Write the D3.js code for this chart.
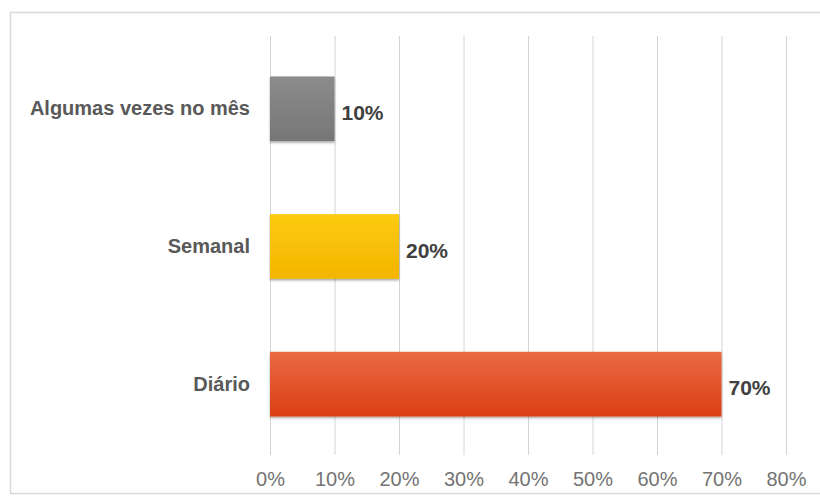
<!DOCTYPE html>
<html>
<head>
<meta charset="utf-8">
<script src="https://cdn.jsdelivr.net/npm/d3@7"></script>
<style>
  html, body { margin: 0; padding: 0; background: #fff; }
  svg { display: block; font-family: "Liberation Sans", Arial, sans-serif; }
</style>
</head>
<body>
<svg id="chart" width="820" height="500"></svg>
<script>
// Frequency of use, share of respondents
const categories = ["Algumas vezes no mês", "Semanal", "Diário"];
const values = [0.10, 0.20, 0.70];
const tickValues = [0, 0.1, 0.2, 0.3, 0.4, 0.5, 0.6, 0.7, 0.8];
const barColors = [
  ["#8c8c8c", "#767676"],
  ["#fdcb12", "#f3b500"],
  ["#ea6a44", "#da3f15"]
];

const FONT = "\"Liberation Sans\", Arial, sans-serif";
const svg = d3.select("#chart");

// outer frame
svg.append("rect")
  .attr("x", 10.5).attr("y", 12.5)
  .attr("width", 830).attr("height", 481)
  .attr("fill", "#fff")
  .attr("stroke", "#d9d9d9").attr("stroke-width", 1.5);

const plot = { left: 270, right: 786, top: 36, bottom: 455 };

const x = d3.scaleLinear().domain([0, 0.8]).range([plot.left, plot.right]);
const y = d3.scaleBand().domain(categories).range([plot.top + 4, plot.bottom - 2]).paddingInner(0.53).paddingOuter(0.265);

const defs = svg.append("defs");
barColors.forEach((c, i) => {
  const g = defs.append("linearGradient").attr("id", "grad" + i)
    .attr("x1", 0).attr("y1", 0).attr("x2", 0).attr("y2", 1);
  g.append("stop").attr("offset", "0%").attr("stop-color", c[0]);
  g.append("stop").attr("offset", "100%").attr("stop-color", c[1]);
});
const shadow = defs.append("filter").attr("id", "shadow")
  .attr("x", "-5%").attr("y", "-10%").attr("width", "110%").attr("height", "130%");
shadow.append("feDropShadow").attr("dx", 0).attr("dy", 1.5).attr("stdDeviation", 1.2)
  .attr("flood-color", "#000").attr("flood-opacity", 0.35);

// vertical gridlines and percentage ticks
const xAxis = d3.axisBottom(x).tickValues(tickValues).tickFormat(d3.format(".0%"))
  .tickSize(-(plot.bottom - plot.top)).tickPadding(17);
const gx = svg.append("g").attr("transform", `translate(0,${plot.bottom})`).call(xAxis);
gx.select(".domain").remove();
gx.selectAll(".tick line").attr("stroke", "#d4d4d4").attr("stroke-width", 1);
gx.selectAll(".tick text").attr("fill", "#737373").attr("font-size", 20)
  .attr("font-family", FONT);

// bars
svg.append("g").selectAll("rect").data(categories).join("rect")
  .attr("x", x(0))
  .attr("y", d => y(d))
  .attr("width", (d, i) => x(values[i]) - x(0))
  .attr("height", y.bandwidth())
  .attr("fill", (d, i) => `url(#grad${i})`)
  .attr("filter", "url(#shadow)");

// category labels
const yAxis = d3.axisLeft(y).tickSize(0).tickPadding(20);
const gy = svg.append("g").attr("transform", `translate(${plot.left},0)`).call(yAxis);
gy.select(".domain").remove();
gy.selectAll(".tick text").attr("fill", "#595959").attr("font-size", 20).attr("font-weight", "bold")
  .attr("font-family", FONT);

// value labels
svg.append("g").selectAll("text").data(categories).join("text")
  .attr("x", (d, i) => x(values[i]) + 7)
  .attr("y", d => y(d) + y.bandwidth() / 2 + 11)
  .attr("fill", "#404040").attr("font-size", 21).attr("font-weight", "bold")
  .attr("font-family", FONT)
  .text((d, i) => d3.format(".0%")(values[i]));
</script>
</body>
</html>
